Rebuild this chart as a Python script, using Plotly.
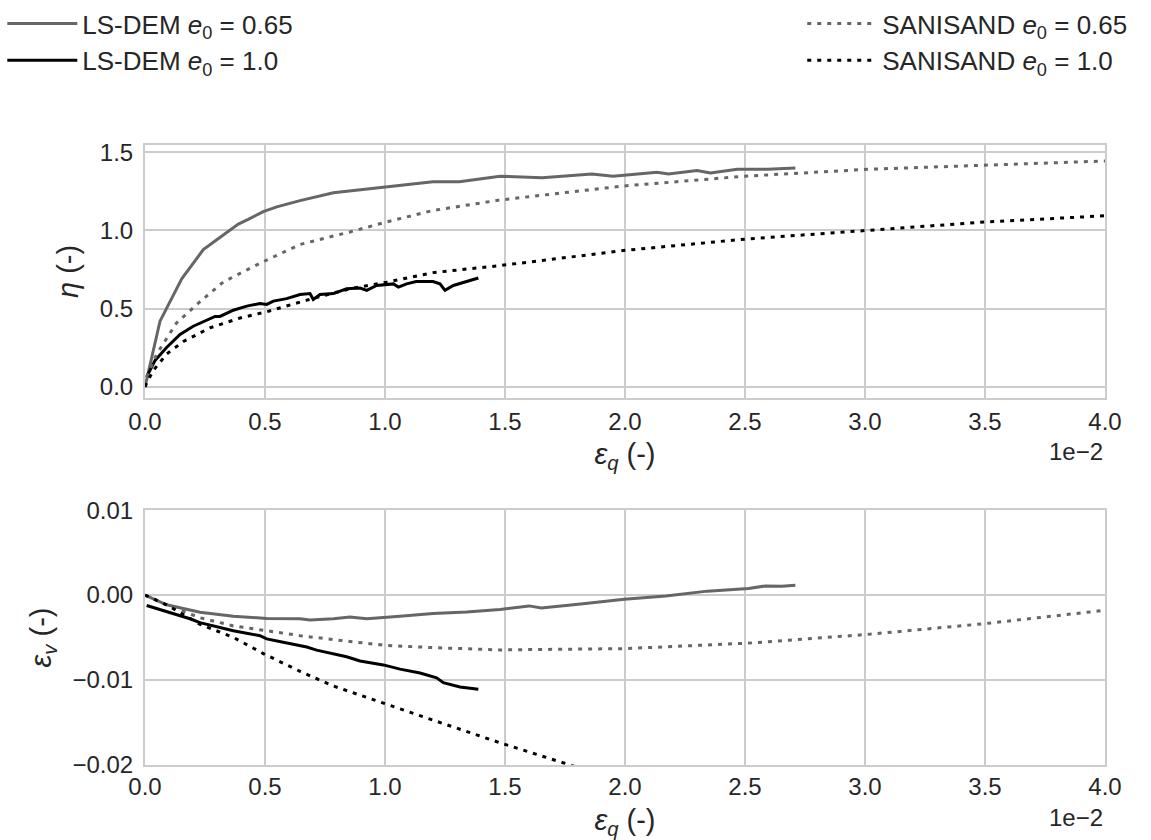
import plotly.graph_objects as go

# ---------------- data (eps_q in units of 1e-2) ----------------
dem065_top_x = [0.0, 0.0625, 0.153, 0.243, 0.299, 0.389, 0.43, 0.493, 0.549, 0.646, 0.785, 1.007, 1.2, 1.31,
                1.479, 1.655, 1.734, 1.862, 1.95, 2.133, 2.181, 2.30, 2.356, 2.468, 2.595, 2.71]
dem065_top_y = [0.0, 0.42, 0.69, 0.877, 0.94, 1.04, 1.07, 1.12, 1.15, 1.19, 1.24, 1.277, 1.31, 1.31,
                1.346, 1.336, 1.346, 1.36, 1.346, 1.371, 1.36, 1.383, 1.366, 1.39, 1.39, 1.398]

dem100_top_x = [0.007, 0.042, 0.09, 0.146, 0.201, 0.257, 0.292, 0.3125, 0.368, 0.424, 0.479, 0.507, 0.535,
                0.59, 0.646, 0.6875, 0.701, 0.729, 0.785, 0.84, 0.896, 0.924, 0.965, 1.035, 1.056, 1.09,
                1.13, 1.2, 1.229, 1.25, 1.285, 1.34, 1.389]
dem100_top_y = [0.064, 0.169, 0.252, 0.335, 0.3875, 0.423, 0.45, 0.45, 0.49, 0.516, 0.533, 0.527, 0.548,
                0.564, 0.59, 0.596, 0.558, 0.59, 0.596, 0.627, 0.631, 0.617, 0.648, 0.658, 0.6375, 0.658,
                0.673, 0.673, 0.658, 0.617, 0.648, 0.673, 0.696]

sani065_top_x = [0.0, 0.007, 0.049, 0.132, 0.229, 0.326, 0.479, 0.646, 0.854, 1.007, 1.2, 1.479, 1.99,
                 2.5, 3.01, 3.52, 4.0]
sani065_top_y = [0.0, 0.064, 0.21, 0.41, 0.544, 0.67, 0.79, 0.91, 0.99, 1.054, 1.127, 1.194, 1.283,
                 1.346, 1.39, 1.419, 1.443]

sani100_top_x = [0.0, 0.007, 0.035, 0.09, 0.16, 0.27, 0.396, 0.507, 0.674, 0.854, 1.007, 1.2, 1.479, 2.005,
                 2.5, 3.01, 3.505, 4.0]
sani100_top_y = [0.0, 0.025, 0.106, 0.21, 0.29, 0.377, 0.44, 0.48, 0.554, 0.627, 0.669, 0.73, 0.775, 0.873,
                 0.944, 1.002, 1.054, 1.093]

dem065_bot_x = [0.0, 0.09, 0.229, 0.368, 0.507, 0.646, 0.6875, 0.785, 0.854, 0.924, 1.0625, 1.2, 1.34,
                1.479, 1.6, 1.652, 1.825, 1.997, 2.17, 2.343, 2.515, 2.584, 2.653, 2.71]
dem065_bot_y = [0.0, -0.00115, -0.00203, -0.00249, -0.00276, -0.0028, -0.00295, -0.0028, -0.0026, -0.0028,
                -0.0025, -0.00218, -0.002, -0.0017, -0.00128, -0.00153, -0.00103, -0.0005, -0.00011,
                0.00046, 0.00077, 0.00107, 0.00103, 0.00115]

dem100_bot_x = [0.007, 0.076, 0.104, 0.1875, 0.229, 0.299, 0.368, 0.479, 0.507, 0.576, 0.674, 0.715, 0.84,
                0.896, 0.993, 1.0625, 1.146, 1.215, 1.243, 1.3125, 1.389]
dem100_bot_y = [-0.00123, -0.00184, -0.0021, -0.0028, -0.00326, -0.00375, -0.00421, -0.00479, -0.00517,
                -0.00556, -0.00613, -0.0065, -0.00728, -0.00778, -0.00824, -0.00874, -0.0092, -0.00977,
                -0.01034, -0.01084, -0.0111]

sani065_bot_x = [0.0, 0.09, 0.229, 0.368, 0.507, 0.646, 0.854, 1.007, 1.2, 1.479, 1.997, 2.515, 2.999,
                 3.5, 4.0]
sani065_bot_y = [0.0, -0.00115, -0.00268, -0.00364, -0.00421, -0.00479, -0.00548, -0.00594, -0.0062,
                 -0.00647, -0.00632, -0.00567, -0.00467, -0.00337, -0.0018]

sani100_bot_x = [0.0, 0.09, 0.229, 0.368, 0.493, 0.646, 0.785, 1.007, 1.2, 1.479, 1.764, 1.80]
sani100_bot_y = [0.0, -0.00115, -0.00345, -0.005, -0.0069, -0.009, -0.01073, -0.01284, -0.01475,
                 -0.01742, -0.01995, -0.0203]

x_ticks = [0.0, 0.5, 1.0, 1.5, 2.0, 2.5, 3.0, 3.5, 4.0]
eta_ticks = [0.0, 0.5, 1.0, 1.5]
ev_ticks = [-0.02, -0.01, 0.0, 0.01]

GRAY = "#666666"
BLACK = "#000000"
FONT = "Liberation Sans"
FS = 24
LFS = 26
TXT = "#262626"
DOT = "4px,6px"

name065 = "LS-DEM <i>e</i><sub>0</sub> = 0.65"
name100 = "LS-DEM <i>e</i><sub>0</sub> = 1.0"
sname065 = "SANISAND <i>e</i><sub>0</sub> = 0.65"
sname100 = "SANISAND <i>e</i><sub>0</sub> = 1.0"

fig = go.Figure()

# top panel
fig.add_trace(go.Scatter(x=dem065_top_x, y=dem065_top_y, mode="lines", name=name065,
                         line=dict(color=GRAY, width=3), xaxis="x", yaxis="y",
                         legend="legend", legendgroup="a"))
fig.add_trace(go.Scatter(x=dem100_top_x, y=dem100_top_y, mode="lines", name=name100,
                         line=dict(color=BLACK, width=3), xaxis="x", yaxis="y",
                         legend="legend", legendgroup="b"))
fig.add_trace(go.Scatter(x=sani065_top_x, y=sani065_top_y, mode="lines", name=sname065,
                         line=dict(color=GRAY, width=3, dash=DOT), xaxis="x", yaxis="y",
                         legend="legend2", legendgroup="c"))
fig.add_trace(go.Scatter(x=sani100_top_x, y=sani100_top_y, mode="lines", name=sname100,
                         line=dict(color=BLACK, width=3, dash=DOT), xaxis="x", yaxis="y",
                         legend="legend2", legendgroup="d"))

# bottom panel
fig.add_trace(go.Scatter(x=dem065_bot_x, y=dem065_bot_y, mode="lines", showlegend=False,
                         line=dict(color=GRAY, width=3), xaxis="x2", yaxis="y2"))
fig.add_trace(go.Scatter(x=dem100_bot_x, y=dem100_bot_y, mode="lines", showlegend=False,
                         line=dict(color=BLACK, width=3), xaxis="x2", yaxis="y2"))
fig.add_trace(go.Scatter(x=sani065_bot_x, y=sani065_bot_y, mode="lines", showlegend=False,
                         line=dict(color=GRAY, width=3, dash=DOT), xaxis="x2", yaxis="y2"))
fig.add_trace(go.Scatter(x=sani100_bot_x, y=sani100_bot_y, mode="lines", showlegend=False,
                         line=dict(color=BLACK, width=3, dash=DOT), xaxis="x2", yaxis="y2"))

W, H = 1151, 840
xdom = [145 / W, 1105 / W]
ydom_top = [1 - 388 / H, 1 - 130 / H]
ydom_bot = [1 - 763 / H, 1 - 503 / H]

axis_common = dict(showgrid=True, gridcolor="#cccccc", gridwidth=1.6, zeroline=False,
                   showline=True, linecolor="#cccccc", linewidth=2, mirror=True, ticks="",
                   automargin=False, tickfont=dict(family=FONT, size=FS, color=TXT))

fig.update_layout(
    width=W, height=H, margin=dict(l=0, r=0, t=0, b=0),
    paper_bgcolor="white", plot_bgcolor="white",
    font=dict(family=FONT, size=FS, color=TXT),
    xaxis=dict(domain=xdom, range=[0, 4.0], anchor="y", tickvals=x_ticks,
               ticktext=[f"{v:.1f}" for v in x_ticks], ticklabelstandoff=2,
               title=dict(text="<i>ε<sub>q</sub></i> (-)", standoff=9), **axis_common),
    yaxis=dict(domain=ydom_top, range=[-0.069, 1.544], anchor="x", tickvals=eta_ticks,
               ticktext=[f"{v:.1f}" for v in eta_ticks], ticklabelstandoff=5,
               title=dict(text="<i>η</i> (-)", standoff=13), **axis_common),
    xaxis2=dict(domain=xdom, range=[0, 4.0], anchor="y2", tickvals=x_ticks,
                ticktext=[f"{v:.1f}" for v in x_ticks],
                title=dict(text="<i>ε<sub>q</sub></i> (-)", standoff=12), **axis_common),
    yaxis2=dict(domain=ydom_bot, range=[-0.02, 0.01], anchor="x2", tickvals=ev_ticks,
                ticktext=["−0.02", "−0.01", "0.00", "0.01"], ticklabelstandoff=5,
                title=dict(text="<i>ε<sub>v</sub></i> (-)", standoff=12), **axis_common),
    legend=dict(x=0.002, y=1.022, xanchor="left", yanchor="top", bgcolor="rgba(0,0,0,0)",
                font=dict(family=FONT, size=LFS, color=TXT), tracegroupgap=0,
                itemwidth=70),
    legend2=dict(x=0.697, y=1.022, xanchor="left", yanchor="top", bgcolor="rgba(0,0,0,0)",
                 font=dict(family=FONT, size=LFS, color=TXT), tracegroupgap=0,
                 itemwidth=70),
    annotations=[
        dict(text="1e−2", xref="paper", yref="paper", x=1105 / W, y=1 - 443 / H,
             xanchor="right", yanchor="middle", showarrow=False,
             font=dict(family=FONT, size=FS, color=TXT)),
        dict(text="1e−2", xref="paper", yref="paper", x=1105 / W, y=1 - 817 / H,
             xanchor="right", yanchor="middle", showarrow=False,
             font=dict(family=FONT, size=FS, color=TXT)),
    ],
)

fig.write_html("out.html")
